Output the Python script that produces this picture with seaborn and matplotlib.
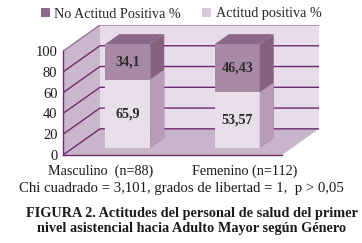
import matplotlib
matplotlib.use("Agg")
import matplotlib.pyplot as plt
import seaborn as sns
import pandas as pd
from matplotlib.patches import Polygon, Rectangle

# ---- data ----
categories = ["Masculino  (n=88)", "Femenino (n=112)"]
no_actitud = [34.1, 46.43]
actitud_pos = [65.9, 53.57]
no_labels = ["34,1", "46,43"]
pos_labels = ["65,9", "53,57"]
yticks = [0, 20, 40, 60, 80, 100]
series_names = ["No Actitud Positiva %", "Actitud positiva %"]
chi_text = "Chi cuadrado = 3,101, grados de libertad = 1,  p > 0,05"
caption = ("FIGURA 2. Actitudes del personal de salud del primer\n"
           "nivel asistencial hacia Adulto Mayor según Género")

sns.set_theme(style="white")
plt.rcParams["font.family"] = ["Liberation Serif", "DejaVu Serif"]

W, H = 362, 243
fig = plt.figure(figsize=(W / 100, H / 100), dpi=100)
ax = fig.add_axes([63 / W, 88 / H, 256 / W, 130 / H])

DX = 0.338   # depth in category units
DY = 25.2    # depth in value units

grid_c = "#6e2a6e"
wall_back = "#e7dce9"
wall_left = "#cbb7cb"
floor_c = "#c9b5c9"

df = pd.DataFrame({"cat": categories, "total": [a + b for a, b in zip(no_actitud, actitud_pos)],
                   "pos": actitud_pos})

front_dark = "#a88aa7"
side_dark = "#86627f"
top_dark = "#8b6887"
front_light = "#e9dfeb"
side_light = "#b99cb7"

sns.barplot(data=df, x="cat", y="total", color=front_dark, width=0.41, ax=ax,
            saturation=1, zorder=2, edgecolor="none")
dark_bars = [p for p in ax.patches if isinstance(p, Rectangle)]
sns.barplot(data=df, x="cat", y="pos", color=front_light, width=0.41, ax=ax,
            saturation=1, zorder=3, edgecolor="none")
light_bars = [p for p in ax.patches if isinstance(p, Rectangle) and p not in dark_bars]
ax.set_xlim(-0.5, 1.5 + DX)
ax.set_ylim(0, 100 + DY)

# walls and floor
ax.add_patch(Polygon([(-0.5 + DX, DY), (1.5 + DX, DY), (1.5 + DX, 100 + DY), (-0.5 + DX, 100 + DY)],
                     closed=True, fc=wall_back, ec="none", zorder=0))
ax.add_patch(Polygon([(-0.5, 0), (-0.5, 100), (-0.5 + DX, 100 + DY), (-0.5 + DX, DY)],
                     closed=True, fc=wall_left, ec="none", zorder=0))
ax.add_patch(Polygon([(-0.5, 0), (1.5, 0), (1.5 + DX, DY), (-0.5 + DX, DY)],
                     closed=True, fc=floor_c, ec="none", zorder=0))
for v in yticks:
    c = "#9c6e9c" if v == 100 else grid_c
    ax.plot([-0.5, -0.5 + DX, 1.5 + DX], [v, v + DY, v + DY], color=c, lw=1.0, zorder=0.5)

F0 = 0.27
F1 = 0.65
for i, (bd, bl) in enumerate(zip(dark_bars, light_bars)):
    for b, side_c in ((bd, side_dark), (bl, side_light)):
        x0, y0, w, h = b.get_x(), b.get_y(), b.get_width(), b.get_height()
        ox0, oy0 = F0 * DX, F0 * DY
        ox1, oy1 = F1 * DX, F1 * DY
        b.set_x(x0 + ox0)
        b.set_y(y0 + oy0)
        xr = x0 + w
        ax.add_patch(Polygon([(xr + ox0, y0 + oy0), (xr + ox1, y0 + oy1),
                              (xr + ox1, y0 + h + oy1), (xr + ox0, y0 + h + oy0)],
                             closed=True, fc=side_c, ec="none", zorder=b.get_zorder()))
    x0, w, h = bd.get_x() - F0 * DX, bd.get_width(), bd.get_height()
    ax.add_patch(Polygon([(x0 + F0 * DX, h + F0 * DY), (x0 + w + F0 * DX, h + F0 * DY),
                          (x0 + w + F1 * DX, h + F1 * DY), (x0 + F1 * DX, h + F1 * DY)],
                         closed=True, fc=top_dark, ec="none", zorder=2))
    cx = bd.get_x() + w / 2
    ax.text(cx, actitud_pos[i] + no_actitud[i] / 2 + F0 * DY, no_labels[i], ha="center", va="center",
            fontsize=10.2, fontweight="bold", color="#2b2b2b", zorder=5)
    ax.text(cx, actitud_pos[i] / 2 + F0 * DY, pos_labels[i], ha="center", va="center",
            fontsize=10.2, fontweight="bold", color="#2b2b2b", zorder=5)

# axes styling
for s in ["top", "right"]:
    ax.spines[s].set_visible(False)
ax.spines["left"].set_bounds(0, 100)
ax.spines["bottom"].set_bounds(-0.5, 1.5)
ax.spines["left"].set_color(grid_c)
ax.spines["bottom"].set_color(grid_c)
ax.spines["left"].set_linewidth(1.0)
ax.spines["bottom"].set_linewidth(1.0)
ax.set_yticks(yticks)
ax.set_yticklabels([str(v) for v in yticks], fontsize=10.5, color="#1a1a1a")
ax.tick_params(axis="y", length=3, width=1, color=grid_c, direction="out", pad=1)
ax.set_xticks([-0.16, 1.16])
ax.set_xticklabels(categories, fontsize=10.2, color="#1a1a1a")
ax.tick_params(axis="x", length=0, pad=6.5)
ax.set_xticks([0.5], minor=True)
ax.tick_params(axis="x", which="minor", length=3, width=1, color=grid_c, direction="out")
ax.set_xlabel("")
ax.set_ylabel("")

# legend
handles = [Rectangle((0, 0), 1, 1, fc="#8c6a8a", ec="none"),
           Rectangle((0, 0), 1, 1, fc="#d8c8d8", ec="none")]
fig.legend(handles, series_names, loc="center", bbox_to_anchor=(0.5, 1 - 14 / H), ncol=2,
           frameon=False, fontsize=10.2, handlelength=0.65, handleheight=0.65,
           handletextpad=0.3, columnspacing=1.5)

fig.text(181 / W, 1 - 188 / H, chi_text, ha="center", va="center", fontsize=10.6, color="#1a1a1a")
fig.text(192 / W, 1 - 221 / H, caption, ha="center", va="center", fontsize=10.3,
         fontweight="bold", color="#1a1a1a", linespacing=1.15)

fig.savefig("out.png", dpi=100)
